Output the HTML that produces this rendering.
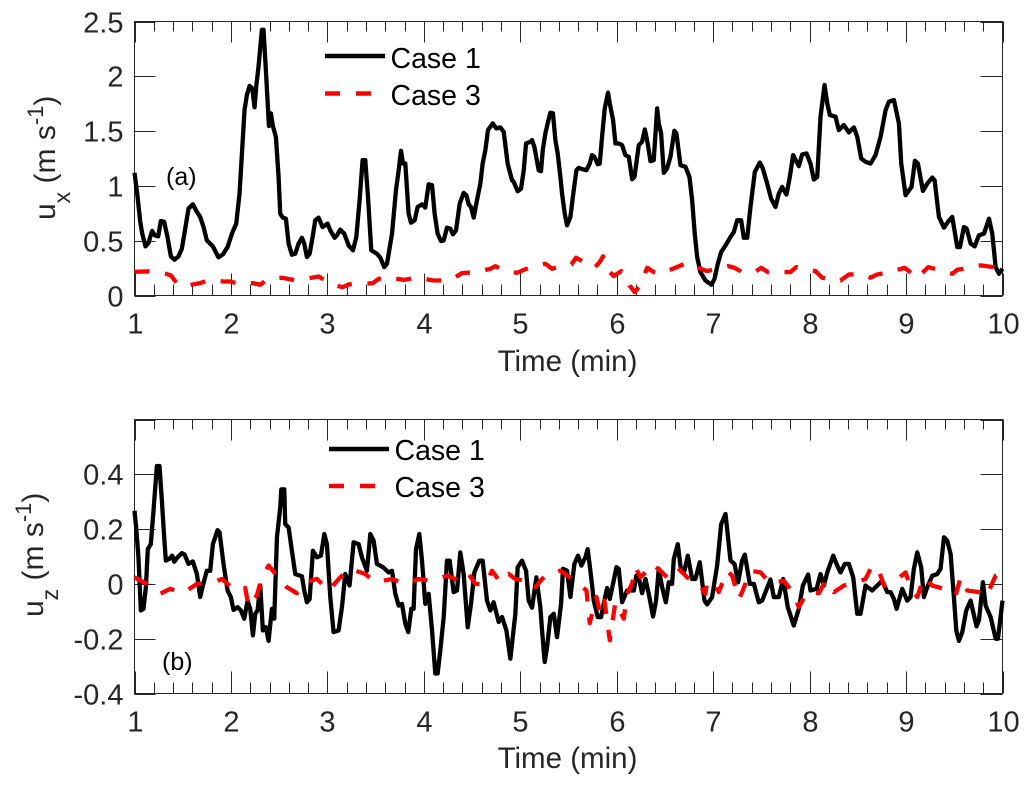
<!DOCTYPE html>
<html lang="en">
<head>
<meta charset="utf-8">
<title>Velocity time series</title>
<style>
html,body{margin:0;padding:0;background:#fff;}
svg{display:block;}
text{font-family:"Liberation Sans",Arial,sans-serif;fill:#262626;}
</style>
</head>
<body>
<svg id="figure" xmlns="http://www.w3.org/2000/svg" width="1028" height="786" viewBox="0 0 1028 786">
  <rect x="0" y="0" width="1028" height="786" fill="#ffffff"/>
  <g id="panelA"></g>
  <g id="panelB"></g>

  <text transform="translate(55 220) rotate(-90)" font-size="30">u<tspan font-size="23" dy="15">x</tspan><tspan dy="-15" xml:space="preserve"> (m s</tspan><tspan font-size="22" dy="-12">-1</tspan><tspan dy="12">)</tspan></text>
  <text x="567.5" y="371" font-size="29.5" text-anchor="middle">Time (min)</text>
  <text x="166" y="185" font-size="25" style="fill:#000">(a)</text>

  <g>
    <line x1="325" y1="56" x2="385" y2="56" stroke="#000" stroke-width="4.5"/>
    <text x="390.5" y="68" font-size="28.5" style="fill:#000">Case 1</text>
    <line x1="325" y1="93.5" x2="385" y2="93.5" stroke="#f00" stroke-width="4.5" stroke-dasharray="15 16"/>
    <text x="390.5" y="105" font-size="28.5" style="fill:#000">Case 3</text>
  </g>

  <text transform="translate(43 617) rotate(-90)" font-size="30">u<tspan font-size="23" dy="15">z</tspan><tspan dy="-15" xml:space="preserve"> (m s</tspan><tspan font-size="22" dy="-12">-1</tspan><tspan dy="12">)</tspan></text>
  <text x="567.5" y="768" font-size="29.5" text-anchor="middle">Time (min)</text>
  <text x="162" y="670" font-size="25" style="fill:#000">(b)</text>

  <g>
    <line x1="329" y1="449" x2="389" y2="449" stroke="#000" stroke-width="4.5"/>
    <text x="394.5" y="460" font-size="28.5" style="fill:#000">Case 1</text>
    <line x1="329" y1="486" x2="389" y2="486" stroke="#f00" stroke-width="4.5" stroke-dasharray="15 16"/>
    <text x="394.5" y="497" font-size="28.5" style="fill:#000">Case 3</text>
  </g>
</svg>
<script>
const xTickLabels = [1,2,3,4,5,6,7,8,9,10];
const xMinorTicks = [1.2,1.4,1.6,1.8,2.2,2.4,2.6,2.8,3.2,3.4,3.6,3.8,4.2,4.4,4.6,4.8,5.2,5.4,5.6,5.8,6.2,6.4,6.6,6.8,7.2,7.4,7.6,7.8,8.2,8.4,8.6,8.8,9.2,9.4,9.6,9.8];
const yTicksA = [0,0.5,1,1.5,2,2.5];
const yTickLabelsA = ["0","0.5","1","1.5","2","2.5"];
const yTicksB = [-0.4,-0.2,0,0.2,0.4,0.6];
const yTickLabelsB = ["-0.4","-0.2","0","0.2","0.4",""];

const timeACase1 = [1,1.03,1.06,1.08,1.114,1.145,1.163,1.183,1.21,1.246,1.273,1.308,1.342,1.377,1.415,1.456,1.491,1.526,1.56,1.605,1.647,1.681,1.716,1.75,1.813,1.871,1.916,1.965,2.01,2.055,2.089,2.141,2.165,2.193,2.221,2.245,2.262,2.286,2.321,2.338,2.366,2.394,2.414,2.435,2.466,2.494,2.511,2.539,2.57,2.598,2.632,2.667,2.701,2.736,2.76,2.788,2.816,2.847,2.874,2.909,2.95,2.978,3.002,3.03,3.075,3.099,3.133,3.175,3.22,3.265,3.3,3.334,3.365,3.393,3.421,3.455,3.514,3.549,3.59,3.618,3.67,3.711,3.739,3.763,3.784,3.808,3.842,3.867,3.905,3.936,3.981,4.015,4.05,4.085,4.112,4.143,4.178,4.206,4.24,4.275,4.302,4.334,4.372,4.413,4.441,4.465,4.489,4.517,4.544,4.586,4.61,4.638,4.665,4.714,4.752,4.793,4.828,4.869,4.914,4.932,4.973,5.008,5.036,5.06,5.105,5.122,5.146,5.191,5.215,5.233,5.26,5.284,5.312,5.339,5.364,5.388,5.416,5.433,5.461,5.485,5.52,5.554,5.582,5.606,5.641,5.686,5.72,5.744,5.769,5.803,5.824,5.848,5.876,5.91,5.928,5.962,5.987,6.021,6.056,6.09,6.125,6.16,6.184,6.229,6.263,6.291,6.315,6.35,6.384,6.419,6.436,6.46,6.488,6.522,6.557,6.598,6.619,6.661,6.713,6.754,6.782,6.809,6.834,6.868,6.92,6.982,7.014,7.048,7.083,7.128,7.18,7.214,7.249,7.29,7.318,7.353,7.387,7.432,7.484,7.515,7.56,7.601,7.646,7.681,7.715,7.76,7.795,7.829,7.888,7.923,7.968,8.009,8.044,8.079,8.113,8.155,8.183,8.21,8.269,8.303,8.355,8.407,8.459,8.494,8.535,8.58,8.632,8.684,8.736,8.788,8.822,8.874,8.926,8.95,8.995,9.057,9.092,9.123,9.175,9.22,9.272,9.296,9.341,9.393,9.434,9.479,9.531,9.559,9.6,9.628,9.67,9.711,9.756,9.808,9.86,9.894,9.929,9.964,10];
const uxCase1 = [1.12,0.915,0.67,0.565,0.448,0.479,0.534,0.589,0.549,0.54,0.68,0.671,0.534,0.357,0.326,0.357,0.427,0.61,0.793,0.832,0.762,0.717,0.625,0.503,0.448,0.348,0.375,0.442,0.564,0.656,0.93,1.692,1.829,1.912,1.89,1.717,1.906,2.088,2.424,2.424,1.997,1.546,1.662,1.546,1.448,1.082,0.747,0.71,0.701,0.473,0.372,0.381,0.473,0.527,0.473,0.351,0.381,0.534,0.686,0.71,0.625,0.64,0.656,0.595,0.527,0.549,0.601,0.564,0.457,0.412,0.534,0.869,1.235,1.235,0.9,0.412,0.381,0.345,0.259,0.29,0.564,0.96,1.143,1.32,1.204,1.204,0.747,0.665,0.686,0.808,0.832,0.802,1.015,1.006,0.747,0.564,0.497,0.503,0.619,0.61,0.558,0.595,0.838,0.936,0.915,0.832,0.808,0.71,0.838,1.021,1.204,1.326,1.509,1.57,1.524,1.534,1.494,1.204,1.052,1.037,0.951,0.976,1.143,1.388,1.402,1.418,1.357,1.143,1.134,1.326,1.479,1.57,1.668,1.662,1.418,1.296,1.082,0.93,0.747,0.64,0.717,0.96,1.143,1.165,1.153,1.143,1.204,1.281,1.265,1.198,1.204,1.448,1.707,1.851,1.753,1.601,1.387,1.387,1.372,1.281,1.265,1.061,1.082,1.372,1.402,1.515,1.418,1.226,1.235,1.707,1.57,1.479,1.119,1.159,1.265,1.503,1.479,1.189,1.174,1.082,0.869,0.564,0.351,0.213,0.137,0.098,0.152,0.29,0.396,0.457,0.534,0.579,0.686,0.686,0.527,0.527,0.808,1.128,1.213,1.159,1.021,0.884,0.808,0.93,0.991,0.921,1.082,1.281,1.18,1.287,1.296,1.204,1.058,1.082,1.631,1.921,1.753,1.646,1.631,1.509,1.555,1.488,1.534,1.448,1.25,1.22,1.204,1.281,1.448,1.692,1.768,1.784,1.57,1.204,0.915,0.991,1.229,1.204,0.954,1.021,1.076,1.052,0.717,0.619,0.671,0.717,0.442,0.442,0.625,0.61,0.473,0.448,0.549,0.564,0.701,0.564,0.259,0.198,0.244];

const timeACase3 = [1,1.145,1.325,1.377,1.439,1.526,1.605,1.681,1.757,1.93,1.992,2.079,2.228,2.304,2.373,2.528,2.684,2.84,2.909,2.988,3.082,3.158,3.22,3.307,3.393,3.472,3.531,3.618,3.791,3.929,4.102,4.268,4.396,4.551,4.69,4.742,4.828,4.966,5.105,5.26,5.329,5.388,5.53,5.578,5.641,5.769,5.824,5.858,5.928,5.969,6.048,6.132,6.187,6.252,6.315,6.384,6.453,6.598,6.73,6.868,6.937,7.041,7.152,7.221,7.3,7.432,7.498,7.567,7.715,7.802,7.861,7.992,8.061,8.13,8.269,8.32,8.407,8.556,8.632,8.701,8.832,8.985,9.116,9.23,9.382,9.479,9.531,9.635,9.773,9.905,9.964,10];
const uxCase3 = [0.216,0.22,0.198,0.183,0.113,0.082,0.101,0.113,0.137,0.128,0.128,0.107,0.113,0.098,0.146,0.162,0.137,0.162,0.174,0.131,0.092,0.076,0.101,0.107,0.107,0.113,0.152,0.168,0.143,0.162,0.137,0.137,0.204,0.214,0.244,0.268,0.229,0.207,0.259,0.29,0.244,0.259,0.284,0.345,0.314,0.253,0.305,0.357,0.214,0.177,0.223,0.092,0.031,0.101,0.253,0.214,0.198,0.25,0.299,0.244,0.223,0.244,0.268,0.253,0.214,0.214,0.253,0.214,0.214,0.214,0.259,0.229,0.223,0.162,0.143,0.137,0.192,0.192,0.162,0.192,0.214,0.253,0.162,0.259,0.223,0.198,0.235,0.25,0.275,0.259,0.214,0.214];

const timeBCase1 = [1,1.017,1.041,1.066,1.093,1.118,1.138,1.169,1.197,1.232,1.259,1.284,1.308,1.325,1.36,1.391,1.412,1.446,1.491,1.519,1.56,1.605,1.647,1.681,1.709,1.75,1.785,1.813,1.861,1.882,1.923,1.965,1.999,2.027,2.069,2.103,2.138,2.172,2.2,2.228,2.252,2.276,2.304,2.331,2.362,2.39,2.425,2.449,2.477,2.511,2.522,2.553,2.563,2.598,2.632,2.667,2.736,2.76,2.788,2.816,2.85,2.892,2.933,2.968,2.995,3.03,3.064,3.116,3.151,3.185,3.23,3.272,3.324,3.358,3.41,3.445,3.479,3.514,3.576,3.635,3.67,3.704,3.739,3.773,3.808,3.839,3.87,3.894,3.919,3.953,3.981,4.015,4.05,4.085,4.119,4.143,4.171,4.206,4.24,4.268,4.309,4.344,4.378,4.413,4.455,4.489,4.524,4.576,4.61,4.655,4.69,4.724,4.776,4.811,4.856,4.897,4.949,4.973,5.018,5.06,5.087,5.122,5.167,5.208,5.226,5.253,5.278,5.312,5.347,5.381,5.423,5.443,5.485,5.52,5.561,5.599,5.634,5.675,5.699,5.727,5.762,5.803,5.838,5.872,5.9,5.928,5.969,5.997,6.021,6.056,6.107,6.135,6.177,6.204,6.235,6.263,6.298,6.332,6.377,6.408,6.436,6.471,6.509,6.54,6.574,6.592,6.633,6.668,6.702,6.737,6.782,6.816,6.861,6.91,6.937,6.989,7.041,7.083,7.128,7.18,7.221,7.259,7.3,7.328,7.38,7.422,7.473,7.508,7.594,7.629,7.681,7.726,7.774,7.836,7.888,7.93,7.985,8.009,8.072,8.113,8.148,8.183,8.245,8.286,8.32,8.366,8.407,8.452,8.494,8.528,8.58,8.649,8.701,8.753,8.805,8.839,8.874,8.902,8.96,9.012,9.047,9.081,9.116,9.157,9.185,9.22,9.272,9.324,9.358,9.393,9.427,9.462,9.496,9.521,9.548,9.583,9.624,9.669,9.731,9.756,9.797,9.825,9.877,9.929,9.953,10];
const uzCase1 = [0.267,0.206,0.097,-0.097,-0.091,-0.012,0.127,0.145,0.267,0.43,0.43,0.303,0.17,0.085,0.091,0.103,0.081,0.097,0.112,0.107,0.073,0.082,0.036,-0.048,-0.006,0.048,0.048,0.145,0.196,0.188,0.073,-0.024,-0.048,-0.095,-0.085,-0.097,-0.127,-0.061,-0.091,-0.188,-0.109,-0.097,-0.006,-0.17,-0.158,-0.208,-0.091,-0.127,0.17,0.279,0.345,0.345,0.218,0.206,0.121,0.036,0.028,-0.024,-0.067,-0.055,0.121,0.097,0.103,0.182,0.145,-0.048,-0.176,-0.17,-0.085,0.036,-0.006,0.152,0.145,0.097,0.048,0.182,0.158,0.073,0.061,0.042,0.048,-0.036,-0.079,-0.073,-0.145,-0.176,-0.091,-0.091,0.127,0.182,0.085,-0.073,-0.036,-0.17,-0.327,-0.327,-0.242,-0.121,0.085,0.085,-0.03,-0.024,0.115,0.036,-0.158,-0.073,0.042,0.085,0.085,-0.061,-0.097,-0.067,-0.139,-0.121,-0.17,-0.273,-0.109,0.061,0.085,0.048,-0.061,-0.087,0.024,-0.085,-0.17,-0.285,-0.23,-0.121,-0.109,-0.194,-0.073,0.055,0.048,-0.048,0.073,0.103,0.067,0.097,0.127,0.048,-0.061,-0.121,-0.121,-0.061,-0.015,-0.055,0.012,0.061,0.055,-0.067,-0.024,-0.024,-0.024,0.03,0.012,-0.034,0.018,-0.036,-0.119,-0.061,0.055,-0.012,-0.067,0.006,0,0.091,0.145,0.046,0.048,0.103,0.018,0.018,0.079,-0.061,-0.075,-0.048,0.067,0.218,0.255,0.085,0.073,0.006,0.085,0.107,0,0,-0.067,-0.061,0.016,-0.048,-0.048,0.018,-0.085,-0.152,-0.091,-0.006,0.034,-0.024,-0.018,0.036,-0.006,0.042,0.103,0.067,0.042,0.073,0.073,0.024,-0.109,-0.109,-0.006,-0.024,-0.006,0.012,-0.03,-0.03,-0.055,-0.091,-0.018,-0.061,-0.048,0.055,0.115,0.061,-0.048,-0.012,0.03,0.036,0.055,0.17,0.158,0.109,-0.048,-0.17,-0.208,-0.176,-0.097,-0.061,-0.155,-0.133,0.006,-0.079,-0.121,-0.2,-0.2,-0.061];

const timeBCase3 = [1,1.128,1.266,1.37,1.501,1.647,1.82,1.906,2.044,2.148,2.183,2.269,2.321,2.39,2.477,2.58,2.684,2.77,2.892,3.013,3.134,3.237,3.393,3.497,3.67,3.808,3.946,4.085,4.24,4.378,4.465,4.534,4.638,4.707,4.793,4.88,4.949,5.036,5.087,5.157,5.226,5.305,5.416,5.513,5.589,5.686,5.72,5.789,5.831,5.872,5.928,5.986,6.073,6.107,6.159,6.194,6.246,6.315,6.367,6.453,6.522,6.626,6.73,6.851,6.92,6.937,7.007,7.058,7.145,7.197,7.266,7.3,7.387,7.491,7.594,7.733,7.836,7.888,7.975,8.096,8.165,8.252,8.355,8.459,8.58,8.649,8.719,8.771,8.891,8.995,9.047,9.116,9.185,9.272,9.393,9.514,9.566,9.635,9.756,9.808,9.86,9.929,10];
const uzCase3 = [0.024,0,-0.036,-0.018,-0.034,0,0.006,0.018,-0.024,-0.015,-0.082,-0.042,0.024,0.067,0.03,-0.012,-0.034,0.006,0.018,-0.024,0.024,0.055,0.036,0.006,0.018,-0.002,0.018,0.01,0.03,0.01,0.036,0,-0.002,0.048,0.006,0.036,0.018,0.012,0.018,-0.012,0.018,0.042,0.048,0.024,0.006,-0.024,-0.143,-0.048,-0.109,-0.061,-0.206,-0.067,-0.127,-0.036,0,0.061,0.024,0.048,0.073,0.048,0.024,0.061,0.024,0,-0.036,0.006,0.006,-0.03,0.048,0.03,-0.055,-0.03,0.048,0.042,0,0.012,-0.036,-0.085,-0.03,-0.034,0.012,-0.03,-0.006,0,0.018,0.067,0.048,-0.006,0.012,0.042,-0.012,-0.048,0.024,-0.006,-0.018,-0.042,0.024,-0.024,-0.03,-0.048,-0.024,0.03,0.036];

const SVGNS = 'http://www.w3.org/2000/svg';

function makeScale(d0, d1, r0, r1) {
  return function (v) { return r0 + (v - d0) * (r1 - r0) / (d1 - d0); };
}

function linePath(times, values, sx, sy) {
  const n = Math.min(times.length, values.length);
  let d = '';
  for (let i = 0; i < n; i++) {
    d += (i ? 'L' : 'M') + sx(times[i]).toFixed(2) + ' ' + sy(values[i]).toFixed(2);
  }
  return d;
}

function addLine(parent, x1, y1, x2, y2) {
  const l = document.createElementNS(SVGNS, 'line');
  l.setAttribute('x1', x1);
  l.setAttribute('y1', y1);
  l.setAttribute('x2', x2);
  l.setAttribute('y2', y2);
  l.setAttribute('stroke', '#262626');
  l.setAttribute('stroke-width', '1');
  
  
  parent.appendChild(l);
}

function addLabel(parent, x, y, str, anchor) {
  const t = document.createElementNS(SVGNS, 'text');
  t.setAttribute('x', x);
  t.setAttribute('y', y);
  t.setAttribute('font-size', '29');
  t.setAttribute('text-anchor', anchor);
  
  
  t.textContent = str;
  parent.appendChild(t);
}

function addSeries(parent, times, values, sx, sy, color, dash, name) {
  const p = document.createElementNS(SVGNS, 'path');
  p.setAttribute('d', linePath(times, values, sx, sy));
  p.setAttribute('fill', 'none');
  p.setAttribute('stroke', color);
  p.setAttribute('stroke-width', '4.3');
  p.setAttribute('stroke-linejoin', 'round');
  if (dash) p.setAttribute('stroke-dasharray', dash);
  
  
  parent.appendChild(p);
}

function drawPanel(parent, box, yMin, yMax, yTicks, yLabels) {
  const sx = makeScale(1, 10, box.left, box.right);
  const sy = makeScale(yMin, yMax, box.bottom, box.top);

  const frame = document.createElementNS(SVGNS, 'rect');
  frame.setAttribute('x', box.left);
  frame.setAttribute('y', box.top);
  frame.setAttribute('width', box.right - box.left);
  frame.setAttribute('height', box.bottom - box.top);
  frame.setAttribute('fill', 'none');
  frame.setAttribute('stroke', '#262626');
  frame.setAttribute('stroke-width', '1');
  
  
  parent.appendChild(frame);

  xTickLabels.forEach(function (v) {
    const x = Math.round(sx(v)) + 0.5;
    addLine(parent, x, box.bottom, x, box.bottom - 22);
    addLine(parent, x, box.top, x, box.top + 21);
    addLabel(parent, x, box.bottom + 38, String(v), 'middle');
  });
  xMinorTicks.forEach(function (v) {
    const x = Math.round(sx(v)) + 0.5;
    addLine(parent, x, box.bottom, x, box.bottom - 11);
    addLine(parent, x, box.top, x, box.top + 10);
  });
  yTicks.forEach(function (v, i) {
    const y = Math.round(sy(v)) + 0.5;
    addLine(parent, box.left, y, box.left + 21, y);
    addLine(parent, box.right, y, box.right - 22, y);
    if (yLabels[i]) addLabel(parent, box.left - 11, y + 10, yLabels[i], 'end');
  });
  return { sx: sx, sy: sy };
}

const panelA = document.getElementById('panelA');
const panelB = document.getElementById('panelB');
const boxA = { left: 134.5, right: 1002.5, top: 21.5, bottom: 295.5 };
const boxB = { left: 134.5, right: 1002.5, top: 419.5, bottom: 693.5 };

const axesA = drawPanel(panelA, boxA, 0, 2.5, yTicksA, yTickLabelsA);
addSeries(panelA, timeACase1, uxCase1, axesA.sx, axesA.sy, '#000000', null, 'ux-case-1-line');
addSeries(panelA, timeACase3, uxCase3, axesA.sx, axesA.sy, '#ff0000', '15 15.6', 'ux-case-3-line');

const axesB = drawPanel(panelB, boxB, -0.4, 0.6, yTicksB, yTickLabelsB);
addSeries(panelB, timeBCase1, uzCase1, axesB.sx, axesB.sy, '#000000', null, 'uz-case-1-line');
addSeries(panelB, timeBCase3, uzCase3, axesB.sx, axesB.sy, '#ff0000', '15 16', 'uz-case-3-line');
</script>
</body>
</html>
